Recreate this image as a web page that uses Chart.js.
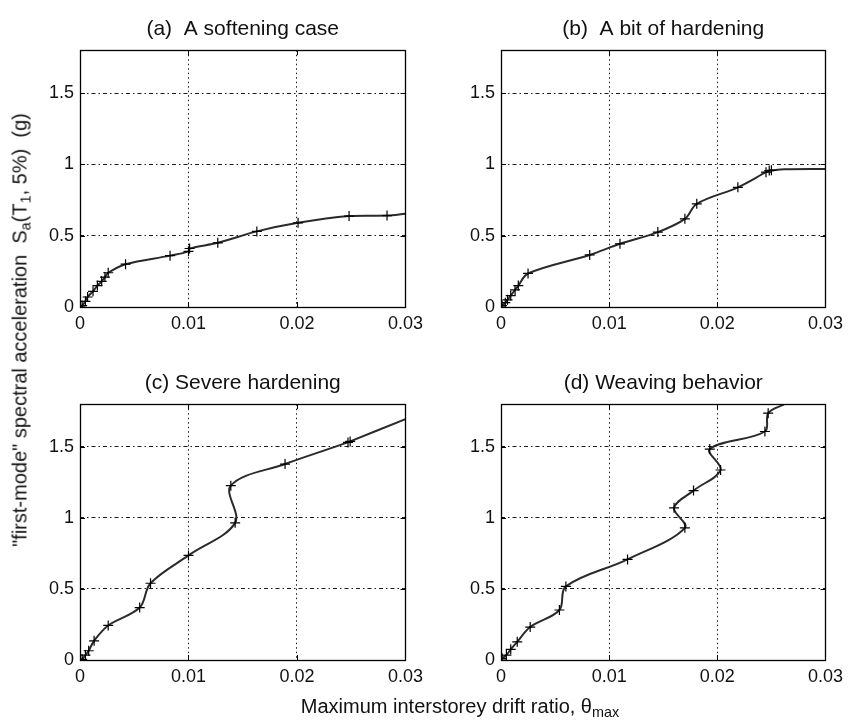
<!DOCTYPE html>
<html>
<head>
<meta charset="utf-8">
<script src="https://cdn.jsdelivr.net/npm/chart.js@4.4.1/dist/chart.umd.min.js"></script>
<style>
  html, body { margin: 0; padding: 0; background: #fff; }
  #wrap { position: relative; width: 849px; height: 722px; overflow: hidden; background: #fff; }
  canvas { position: absolute; }
  .lab { position: absolute; font-family: "Liberation Sans", Arial, sans-serif; color: #111; white-space: nowrap; }
  .lab sub { font-size: 0.72em; vertical-align: -0.3em; line-height: 0; }
  #ylab { left: 20px; top: 330px; font-size: 20px; transform: translate(-50%, -50%) rotate(-90deg); }
  #xlab { left: 460px; top: 706px; font-size: 20px; transform: translate(-50%, -50%); }
</style>
</head>
<body>
<div id="wrap">
  <canvas id="cA" width="10" height="10"></canvas>
  <canvas id="cB" width="10" height="10"></canvas>
  <canvas id="cC" width="10" height="10"></canvas>
  <canvas id="cD" width="10" height="10"></canvas>
  <div class="lab" id="ylab">"first-mode" spectral acceleration&nbsp; S<sub>a</sub>(T<sub>1</sub>, 5%)&nbsp; (g)</div>
  <div class="lab" id="xlab">Maximum interstorey drift ratio, θ<sub>max</sub></div>
</div>
<script>
// ---- data ----
const xTicks = [0, 0.01, 0.02, 0.03];
const yTicks = [0, 0.5, 1, 1.5];
const xRange = [0, 0.03];
const yRange = [0, 1.8];

const titleA = '(a)  A softening case';
const titleB = '(b)  A bit of hardening';
const titleC = '(c) Severe hardening';
const titleD = '(d) Weaving behavior';

// (a) softening
const softDrift = [0, 0.0002, 0.0005, 0.0007, 0.0012, 0.0016, 0.0020, 0.0023, 0.0026, 0.0042, 0.0083, 0.0100, 0.0101, 0.0127, 0.0163, 0.0201, 0.0248, 0.0283];
const softSa    = [0, 0.01,   0.04,   0.07,   0.11,   0.15,   0.18,   0.21,   0.24,   0.30,   0.36,   0.39,   0.41,   0.45,   0.53,   0.59,   0.637,  0.641];
const softTailDrift = [0.030];
const softTailSa    = [0.653];

// (b) a bit of hardening
const bitDrift = [0, 0.0001, 0.0004, 0.0006, 0.0009, 0.0013, 0.0016, 0.0025, 0.0082, 0.0110, 0.0145, 0.0170, 0.0181, 0.0219, 0.0245, 0.0248, 0.0250];
const bitSa    = [0, 0.01,   0.03,   0.05,   0.08,   0.12,   0.15,   0.235,  0.365,  0.443,  0.525,  0.618,  0.723,  0.839,  0.945,  0.956,  0.958];
const bitTailDrift = [0.0262, 0.030];
const bitTailSa    = [0.966, 0.968];

// (c) severe hardening
const sevDrift = [0, 0.0002, 0.0005, 0.0008, 0.0013, 0.0026, 0.0055, 0.0065, 0.0100, 0.0143, 0.0139, 0.0189, 0.0247, 0.0249];
const sevSa    = [0, 0.005,  0.035,  0.065,  0.135,  0.243,  0.369,  0.54,   0.736,  0.965,  1.227,  1.379,  1.531,  1.538];
const sevTailDrift = [0.030];
const sevTailSa    = [1.695];

// (d) weaving behavior
const weaveDrift = [0, 0.0001, 0.0005, 0.0009, 0.0015, 0.0027, 0.0054, 0.0060, 0.0117, 0.0170, 0.0160, 0.0178, 0.0203, 0.0193, 0.0244, 0.0247];
const weaveSa    = [0, 0.012,  0.035,  0.075,  0.128,  0.232,  0.352,  0.518,  0.708,  0.930,  1.071,  1.192,  1.337,  1.484,  1.608,  1.737];
const weaveTailDrift = [0.0262];
const weaveTailSa    = [1.80];

// ---- layout (pixel boxes of each plot area) ----
const panels = [
  { id: 'cA', title: titleA, dx: softDrift,  dy: softSa,  tx: softTailDrift,  ty: softTailSa,  L: 80,  R: 408, T: 49,  B: 307 },
  { id: 'cB', title: titleB, dx: bitDrift,   dy: bitSa,   tx: bitTailDrift,   ty: bitTailSa,   L: 501, R: 828, T: 49,  B: 307 },
  { id: 'cC', title: titleC, dx: sevDrift,   dy: sevSa,   tx: sevTailDrift,   ty: sevTailSa,   L: 80,  R: 408, T: 403, B: 660 },
  { id: 'cD', title: titleD, dx: weaveDrift, dy: weaveSa, tx: weaveTailDrift, ty: weaveTailSa, L: 501, R: 828, T: 403, B: 660 }
];

const Y_AXIS_W = 60, X_AXIS_H = 36, PAD_R = 21, TITLE_H = 49;
const FONT = '"Liberation Sans", Arial, sans-serif';

const framePlugin = {
  id: 'frame',
  afterDraw(chart) {
    const { ctx, chartArea: a, scales } = chart;
    ctx.save();
    ctx.setLineDash([]);
    ctx.strokeStyle = '#000';
    ctx.lineWidth = 1;
    const tl = 5;
    ctx.beginPath();
    scales.x.ticks.forEach(t => {
      const px = Math.round(scales.x.getPixelForValue(t.value)) + 0.5;
      ctx.moveTo(px, a.bottom); ctx.lineTo(px, a.bottom - tl);
      ctx.moveTo(px, a.top); ctx.lineTo(px, a.top + tl);
    });
    scales.y.ticks.forEach(t => {
      const py = Math.round(scales.y.getPixelForValue(t.value)) + 0.5;
      ctx.moveTo(a.left, py); ctx.lineTo(a.left + tl, py);
      ctx.moveTo(a.right, py); ctx.lineTo(a.right - tl, py);
    });
    ctx.stroke();
    ctx.lineWidth = 1.3;
    ctx.strokeRect(Math.round(a.left) + 0.5, Math.round(a.top) + 0.5, Math.round(a.right - a.left), Math.round(a.bottom - a.top));
    ctx.restore();
  }
};

function fmt(v) { return String(v); }

panels.forEach(p => {
  const cv = document.getElementById(p.id);
  const left = p.L - Y_AXIS_W;
  const top = p.T - TITLE_H;
  const w = p.R - left + PAD_R;
  const h = p.B - top + X_AXIS_H;
  cv.style.left = left + 'px';
  cv.style.top = top + 'px';
  cv.width = w; cv.height = h;
  cv.style.width = w + 'px'; cv.style.height = h + 'px';

  const markers = p.dx.map((x, i) => ({ x: x, y: p.dy[i] }));
  const curve = markers.concat(p.tx.map((x, i) => ({ x: x, y: p.ty[i] })));

  new Chart(cv, {
    type: 'scatter',
    data: {
      datasets: [
        { data: markers, showLine: false, pointStyle: 'cross', pointRadius: 5, pointBorderWidth: 1.2,
          pointBorderColor: '#000', pointBackgroundColor: '#000', pointHoverRadius: 5 },
        { data: curve, showLine: true, pointRadius: 0, borderColor: '#2a2a2a', borderWidth: 2,
          tension: 0.35, fill: false }
      ]
    },
    options: {
      responsive: false,
      animation: false,
      devicePixelRatio: 1,
      layout: { padding: { left: 0, right: PAD_R, top: 0, bottom: 0 } },
      plugins: {
        legend: { display: false },
        tooltip: { enabled: false },
        title: { display: true, text: p.title, color: '#111', fullSize: false,
          font: { family: FONT, size: 21, weight: 'normal', lineHeight: 1.2 },
          padding: { top: 17, bottom: 8 } }
      },
      scales: {
        x: {
          type: 'linear', min: xRange[0], max: xRange[1],
          afterBuildTicks(s) { s.ticks = xTicks.map(v => ({ value: v })); },
          afterFit(s) { s.height = X_AXIS_H; },
          ticks: { callback: fmt, color: '#111', padding: 6, maxRotation: 0, autoSkip: false,
            font: { family: FONT, size: 18 } },
          grid: { color: '#000', lineWidth: 0.9, drawTicks: false },
          border: { display: false, dash: [1.5, 3] }
        },
        y: {
          type: 'linear', min: yRange[0], max: yRange[1],
          afterBuildTicks(s) { s.ticks = yTicks.map(v => ({ value: v })); },
          afterFit(s) { s.width = Y_AXIS_W; },
          ticks: { callback: fmt, color: '#111', padding: 6, autoSkip: false,
            font: { family: FONT, size: 18 } },
          grid: { color: '#000', lineWidth: 0.9, drawTicks: false },
          border: { display: false, dash: [4, 3, 1.5, 3] }
        }
      }
    },
    plugins: [framePlugin]
  });
});
</script>
</body>
</html>
